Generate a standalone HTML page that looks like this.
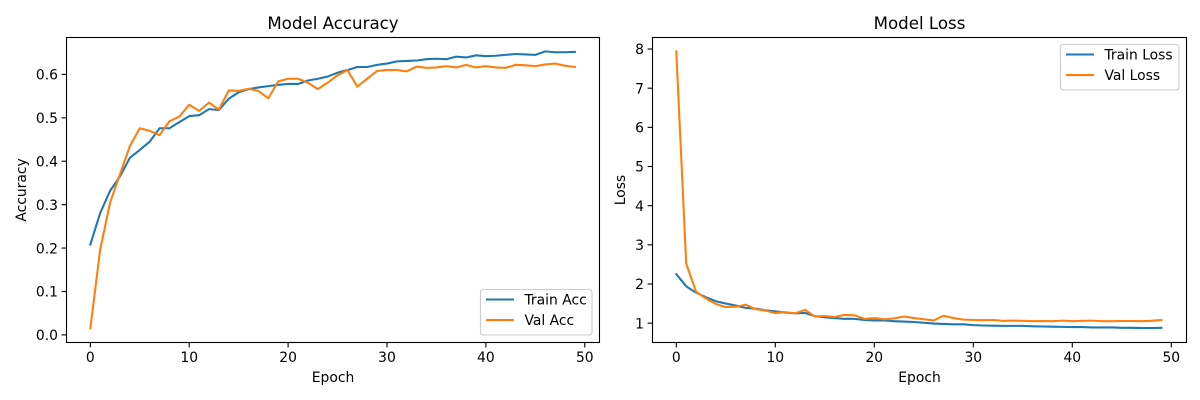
<!DOCTYPE html>
<html lang="en">
<head>
<meta charset="utf-8">
<title>Model Accuracy and Loss</title>
<style>
html,body{margin:0;padding:0;background:#fff;width:1200px;height:400px;overflow:hidden}
svg{display:block;font-family:"DejaVu Sans",sans-serif;fill:#000}
</style>
</head>
<body>
<svg id="chart" xmlns="http://www.w3.org/2000/svg" width="1200" height="400" viewBox="0 0 1200 400"></svg>
<script>
const trainAcc = [0.208,0.281,0.332,0.365,0.408,0.426,0.445,0.476,0.476,0.490,0.504,0.506,0.520,0.518,0.544,0.559,0.566,0.570,0.573,0.576,0.578,0.578,0.586,0.590,0.595,0.604,0.610,0.617,0.617,0.622,0.625,0.630,0.631,0.632,0.635,0.636,0.635,0.641,0.639,0.644,0.642,0.643,0.645,0.647,0.646,0.645,0.653,0.651,0.651,0.652];
const valAcc = [0.015,0.197,0.305,0.370,0.435,0.476,0.470,0.460,0.492,0.503,0.530,0.516,0.535,0.519,0.563,0.562,0.567,0.562,0.545,0.584,0.590,0.590,0.581,0.566,0.581,0.598,0.610,0.572,0.590,0.608,0.610,0.610,0.607,0.618,0.615,0.616,0.619,0.616,0.622,0.616,0.619,0.616,0.615,0.622,0.621,0.619,0.623,0.625,0.620,0.617];
const trainLoss = [2.25,1.94,1.78,1.66,1.56,1.50,1.45,1.39,1.37,1.33,1.30,1.27,1.25,1.26,1.18,1.15,1.13,1.11,1.11,1.08,1.07,1.07,1.05,1.04,1.03,1.01,0.99,0.98,0.97,0.97,0.95,0.94,0.935,0.93,0.93,0.93,0.92,0.915,0.91,0.905,0.90,0.90,0.89,0.89,0.89,0.88,0.88,0.875,0.875,0.88];
const valLoss = [7.94,2.52,1.80,1.63,1.49,1.41,1.42,1.47,1.36,1.32,1.26,1.28,1.25,1.34,1.17,1.18,1.16,1.21,1.20,1.11,1.13,1.10,1.12,1.17,1.13,1.10,1.07,1.19,1.13,1.09,1.08,1.075,1.08,1.06,1.065,1.06,1.05,1.055,1.05,1.065,1.05,1.06,1.065,1.05,1.05,1.055,1.055,1.05,1.06,1.08];
const epochTicks = [0,10,20,30,40,50];
const accTicks = [0.0,0.1,0.2,0.3,0.4,0.5,0.6];
const accTickLabels = ["0.0","0.1","0.2","0.3","0.4","0.5","0.6"];
const lossTicks = [1,2,3,4,5,6,7,8];
const lossTickLabels = ["1","2","3","4","5","6","7","8"];
const accSeriesNames = ["Train Acc","Val Acc"];
const lossSeriesNames = ["Train Loss","Val Loss"];

const NS = "http://www.w3.org/2000/svg";
const root = document.getElementById("chart");
const BLUE = "#1f77b4", ORANGE = "#ff7f0e";

function make(tag, attrs, parent, text) {
  const el = document.createElementNS(NS, tag);
  for (const k in attrs) el.setAttribute(k, attrs[k]);
  if (text !== undefined) el.textContent = text;
  parent.appendChild(el);
  return el;
}

function drawPanel(cfg) {
  const g = make("g", {}, root);
  
  

  const xScale = v => cfg.left + (v - cfg.xDomain[0]) / (cfg.xDomain[1] - cfg.xDomain[0]) * (cfg.right - cfg.left);
  const yScale = v => cfg.bottom - (v - cfg.yDomain[0]) / (cfg.yDomain[1] - cfg.yDomain[0]) * (cfg.bottom - cfg.top);

  // x ticks
  epochTicks.forEach(t => {
    const px = xScale(t);
    const tick = make("line", {x1:px, x2:px, y1:cfg.bottom, y2:cfg.bottom + 4.9, stroke:"#000", "stroke-width":1.1}, g);
    
    
    const label = make("text", {x:px, y:cfg.bottom + 19.5, "text-anchor":"middle", "font-size":"13.89px"}, g, String(t));
    
    
  });

  // y ticks
  cfg.yTicks.forEach((t, i) => {
    const py = yScale(t);
    const tick = make("line", {x1:cfg.left - 4.9, x2:cfg.left, y1:py, y2:py, stroke:"#000", "stroke-width":1.1}, g);
    
    
    const label = make("text", {x:cfg.left - 8.5, y:py + 5.2, "text-anchor":"end", "font-size":"13.89px"}, g, cfg.yLabels[i]);
    
    
  });

  // series
  const clipId = "clip-" + cfg.key;
  const defs = make("defs", {}, g);
  const clip = make("clipPath", {id:clipId}, defs);
  make("rect", {x:cfg.left, y:cfg.top, width:cfg.right - cfg.left, height:cfg.bottom - cfg.top}, clip);

  cfg.series.forEach((values, i) => {
    const pts = values.map((v, idx) => xScale(idx).toFixed(2) + "," + yScale(v).toFixed(2)).join(" ");
    const line = make("polyline", {points:pts, fill:"none", stroke:i === 0 ? BLUE : ORANGE, "stroke-width":2.08, "stroke-linejoin":"round", "stroke-linecap":"square", "clip-path":"url(#" + clipId + ")"}, g);
    
    
  });

  // spines
  const frame = make("rect", {x:cfg.left, y:cfg.top, width:cfg.right - cfg.left, height:cfg.bottom - cfg.top, fill:"none", stroke:"#000", "stroke-width":1.1}, g);
  
  

  // title and axis labels
  const cx = (cfg.left + cfg.right) / 2;
  const title = make("text", {x:cx, y:29, "text-anchor":"middle", "font-size":"16.67px"}, g, cfg.title);
  
  
  const xLabel = make("text", {x:cx, y:382, "text-anchor":"middle", "font-size":"13.89px"}, g, "Epoch");
  
  
  const cy = (cfg.top + cfg.bottom) / 2;
  const yLabel = make("text", {x:cfg.yTitleX, y:cy, "text-anchor":"middle", "font-size":"13.89px", transform:"rotate(-90 " + cfg.yTitleX + " " + cy + ")"}, g, cfg.yTitle);
  
  

  // legend
  const lg = make("g", {}, g);
  
  
  make("rect", {x:cfg.legend.x, y:cfg.legend.y, width:cfg.legend.w, height:cfg.legend.h, rx:2.8, ry:2.8, fill:"#fff", "fill-opacity":0.8, stroke:"#ccc", "stroke-width":1.1}, lg);
  cfg.names.forEach((name, i) => {
    const rowY = cfg.legend.y + 10 + i * 20.6;
    const swatch = make("line", {x1:cfg.legend.x + 5.5, x2:cfg.legend.x + 33.5, y1:rowY, y2:rowY, stroke:i === 0 ? BLUE : ORANGE, "stroke-width":2.08}, lg);
    
    
    const text = make("text", {x:cfg.legend.x + 44, y:rowY + 5, "font-size":"13.89px"}, lg, name);
    
    
  });
}

drawPanel({
  key:"accuracy", title:"Model Accuracy", yTitle:"Accuracy", yTitleX:26,
  left:66.5, right:599.5, top:37.5, bottom:342.5,
  xDomain:[-2.41,51.49], yDomain:[-0.0175,0.685],
  yTicks:accTicks, yLabels:accTickLabels,
  series:[trainAcc,valAcc], names:accSeriesNames,
  legend:{x:480.5,y:289.5,w:111.5,h:45.5}
});
drawPanel({
  key:"loss", title:"Model Loss", yTitle:"Loss", yTitleX:625,
  left:652.5, right:1186.5, top:37.5, bottom:342.5,
  xDomain:[-2.404,51.536], yDomain:[0.506,8.294],
  yTicks:lossTicks, yLabels:lossTickLabels,
  series:[trainLoss,valLoss], names:lossSeriesNames,
  legend:{x:1060.5,y:44.5,w:118.5,h:45.5}
});
</script>
</body>
</html>
